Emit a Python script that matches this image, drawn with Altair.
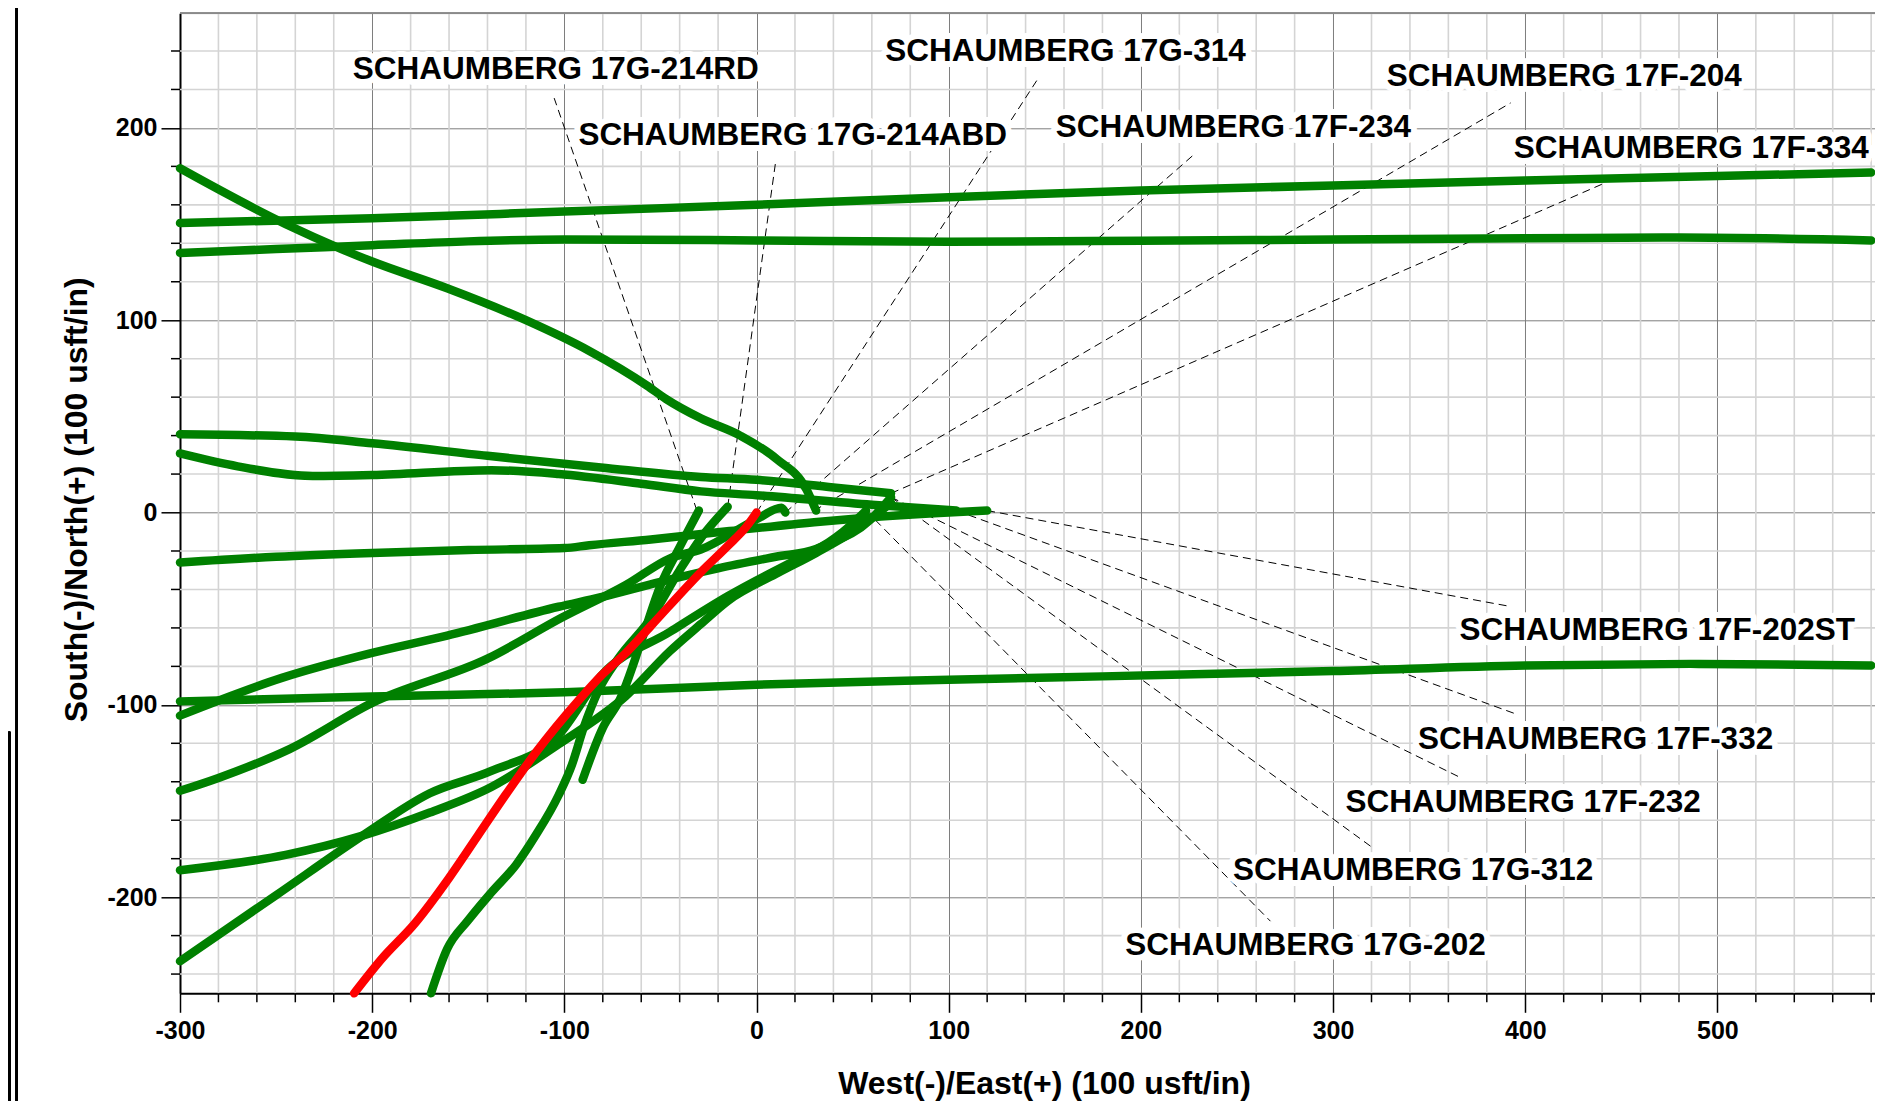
import altair as alt
import pandas as pd

# ---------------- well paths (West(-)/East(+), South(-)/North(+)) ----------------
w1_x = [-300, -245, -216, -200, -161, -120, -87, -57, -47, -29, -8.5, 10.6, 26, 31]
w1_y = [179, 150, 137, 130.5, 116.6, 100, 84, 66, 59, 49, 40, 27.7, 12, 1]
w2_x = [-300, -200, -100, 0, 100, 200, 300, 400, 500, 580]
w2_y = [150.6, 153, 156.5, 160, 164, 167.5, 170, 172.6, 175, 176.8]
w3_x = [-300, -250, -200, -150, -100, 0, 100, 200, 300, 400, 480, 580]
w3_y = [135, 137, 139, 141, 142, 141.5, 140.8, 141.3, 142, 142.6, 143, 141.5]
w4_x = [-300, -240, -200, -140, -81, -29, 0, 40, 70]
w4_y = [40.7, 39.5, 36, 29.5, 23.4, 18.5, 17, 13, 10]
w5_x = [-300, -270, -231, -200, -138, -103, -60, -29, 0, 60, 104]
w5_y = [30.7, 24, 19, 19.5, 22, 20, 15, 11, 9, 4, 1]
w6_x = [-300, -250, -200, -150, -100, -87, -55, -14, 30, 57, 90, 120]
w6_y = [-26, -23, -21, -19.5, -18.5, -17, -14, -9.6, -5, -2.7, -0.5, 1]
w7_x = [-300, -200, -100, 0, 100, 180, 300, 400, 486, 580]
w7_y = [-98.2, -95.7, -93.5, -89.5, -87, -85.2, -82.4, -79.5, -78.7, -79.5]
w8_x = [-300, -247, -200, -161, -103, -81, -50, -20, 10, 31, 45, 57]
w8_y = [-105.6, -86, -73, -64, -49, -44, -36, -29, -23, -19, -10, 1]
w9_x = [-300, -280, -243, -200, -140, -101, -68, -45, -29, 0, 13, 15]
w9_y = [-144.7, -138, -123, -99, -76, -54.5, -37.7, -23.8, -19.2, -3.5, 2.5, 0]
w10_x = [-300, -245, -205, -170, -138, -103, -68, -45, -29, -15, 10, 31, 50, 70]
w10_y = [-186, -178, -168, -156, -142.7, -120.5, -95.4, -72, -58, -46, -32, -21, -10, 5]
w11_x = [-300, -250, -205, -170, -138, -103, -81, -45, -15, 31, 59, 70]
w11_y = [-233.3, -199, -168, -146, -134.4, -115.8, -85, -62, -43.5, -19.2, -4, 8]
w12_x = [-169.4, -161, -150, -138, -125, -115, -103, -96, -90, -82, -72, -55, -40, -28, -15]
w12_y = [-250, -227, -212, -197.6, -183, -168, -147, -131, -112, -92, -76, -55, -30, -12, 3]
w13_x = [-90.5, -80, -71, -60, -50, -40, -30]
w13_y = [-139, -112, -97, -67, -38, -18, 1]
subject_x = [-209.4, -195, -177.6, -160, -145, -130, -115, -92, -81, -68, -55, -29, -15, -5, 0]
subject_y = [-250, -232, -213.4, -190, -168, -146, -125, -97, -85, -73, -59, -31, -17.4, -7, 0]

offset_paths = [
    ("w1", w1_x, w1_y), ("w2", w2_x, w2_y), ("w3", w3_x, w3_y), ("w4", w4_x, w4_y),
    ("w5", w5_x, w5_y), ("w6", w6_x, w6_y), ("w7", w7_x, w7_y), ("w8", w8_x, w8_y),
    ("w9", w9_x, w9_y), ("w10", w10_x, w10_y), ("w11", w11_x, w11_y),
    ("w12", w12_x, w12_y), ("w13", w13_x, w13_y),
]

# ---------------- labels and leader lines ----------------
label_text = [
    "SCHAUMBERG 17G-214RD", "SCHAUMBERG 17G-214ABD", "SCHAUMBERG 17G-314",
    "SCHAUMBERG 17F-234", "SCHAUMBERG 17F-204", "SCHAUMBERG 17F-334",
    "SCHAUMBERG 17F-202ST", "SCHAUMBERG 17F-332", "SCHAUMBERG 17F-232",
    "SCHAUMBERG 17G-312", "SCHAUMBERG 17G-202",
]
label_x = [-210.1, -92.7, 67, 155.7, 327.9, 394, 365.8, 344.2, 306.5, 247.9, 191.9]
label_y = [230.1, 196, 239.4, 199.9, 226.5, 189.1, -61.6, -118.2, -151.2, -186.2, -225.5]
lead_x1 = [-31, -15, 0, 15, 30, 70, 120, 104, 70, 70, 57]
lead_y1 = [1, 3, 0, 0, 1, 10, 1, 1, 8, 8, 1]
lead_x2 = [-105.3, 9.9, 145.8, 228, 392.4, 442.2, 392.6, 395, 365, 319.5, 267.4]
lead_y2 = [215.5, 182.1, 224.6, 186.5, 213, 171.7, -48.9, -104.7, -137.2, -173.5, -212.5]

x_major = [-300, -200, -100, 0, 100, 200, 300, 400, 500]
y_major = [-200, -100, 0, 100, 200]
x_minor = [v for v in range(-280, 581, 20) if v % 100 != 0]
y_minor = [v for v in range(-240, 241, 20) if v % 100 != 0]

# ---------------- tables ----------------
rows = []
for name, xs, ys in offset_paths:
    for i, (x, y) in enumerate(zip(xs, ys)):
        rows.append({"well": name, "x": x, "y": y, "i": i})
offset_df = pd.DataFrame(rows)
subject_df = pd.DataFrame({"x": subject_x, "y": subject_y, "i": range(len(subject_x))})
label_df = pd.DataFrame({"label": label_text, "x": label_x, "y": label_y})
lead_df = pd.DataFrame({"x": lead_x1, "y": lead_y1, "x2": lead_x2, "y2": lead_y2})
xminor_df = pd.DataFrame({"v": x_minor})
yminor_df = pd.DataFrame({"v": y_minor})

FONT = "Liberation Sans"
W, H = 1695, 980
GRID_MINOR = "#d4d4d4"
GRID_MAJOR = "#7d7d7d"
GREEN = "#008000"
LABEL_SIZE = 31.5

x_scale = alt.Scale(domain=[-300, 582], nice=False, zero=False)
y_scale = alt.Scale(domain=[-250, 259.6], nice=False, zero=False)


def make_axis(title, values, **kw):
    return alt.Axis(
        title=title, values=values, grid=True,
        gridColor=GRID_MAJOR, gridWidth=1,
        tickSize=19, tickColor="black", tickWidth=1.5,
        domainColor="black", domainWidth=2,
        labelExpr="'' + datum.value", labelOverlap=False, labelFlush=False,
        labelFont=FONT, labelFontWeight="bold", labelFontSize=25, labelColor="black",
        titleFont=FONT, titleFontWeight="bold", titleFontSize=32, titleColor="black",
        **kw,
    )


x_axis = make_axis("West(-)/East(+) (100 usft/in)", x_major, labelPadding=6,
                   titleX=864, titleY=100, titleBaseline="alphabetic", titleAlign="center")
y_axis = make_axis("South(-)/North(+) (100 usft/in)", y_major, labelPadding=4,
                   titleX=-94, titleY=486, titleBaseline="alphabetic", titleAlign="center",
                   titleAngle=270)

axes_holder = alt.Chart(offset_df).mark_point(opacity=0).encode(
    x=alt.X("x:Q", scale=x_scale, axis=x_axis),
    y=alt.Y("y:Q", scale=y_scale, axis=y_axis),
)

x_minor_grid = alt.Chart(xminor_df).mark_rule(color=GRID_MINOR, strokeWidth=1.6).encode(
    x="v:Q", y=alt.value(0), y2=alt.value(H)
)
y_minor_grid = alt.Chart(yminor_df).mark_rule(color=GRID_MINOR, strokeWidth=1.6).encode(
    y="v:Q", x=alt.value(0), x2=alt.value(W)
)
x_minor_ticks = alt.Chart(xminor_df).mark_rule(color="black", strokeWidth=1.5).encode(
    x="v:Q", y=alt.value(H), y2=alt.value(H + 9)
)
y_minor_ticks = alt.Chart(yminor_df).mark_rule(color="black", strokeWidth=1.5).encode(
    y="v:Q", x=alt.value(0), x2=alt.value(-9)
)

offset_lines = alt.Chart(offset_df).mark_line(
    color=GREEN, strokeWidth=8.5, strokeCap="round", strokeJoin="round", interpolate="monotone"
).encode(x="x:Q", y="y:Q", detail="well:N", order="i:Q")

subject_line = alt.Chart(subject_df).mark_line(
    color="#ff0000", strokeWidth=8.5, strokeCap="round", strokeJoin="round", interpolate="monotone"
).encode(x="x:Q", y="y:Q", order="i:Q")

leaders = alt.Chart(lead_df).mark_rule(
    color="black", strokeWidth=1, strokeDash=[8, 5]
).encode(x="x:Q", y="y:Q", x2="x2:Q", y2="y2:Q")

label_halo = alt.Chart(label_df).mark_text(
    align="left", baseline="middle", font=FONT, fontWeight="bold", fontSize=LABEL_SIZE,
    fill="white", stroke="white", strokeWidth=12, strokeJoin="round",
).encode(x="x:Q", y="y:Q", text="label:N")

labels = alt.Chart(label_df).mark_text(
    align="left", baseline="middle", font=FONT, fontWeight="bold", fontSize=LABEL_SIZE,
    color="black",
).encode(x="x:Q", y="y:Q", text="label:N")

top_border = alt.Chart(label_df).mark_rule(color="#8a8a8a", strokeWidth=1.2).encode(
    x=alt.value(0), x2=alt.value(W), y=alt.value(0)
)

# drawing-frame lines at the far left of the sheet
frame_line = alt.Chart(label_df).mark_rule(color="black", strokeWidth=2).encode(
    x=alt.value(-163.3), y=alt.value(-5.3), y2=alt.value(1090)
)
frame_box = alt.Chart(label_df).mark_rule(color="black", strokeWidth=2).encode(
    x=alt.value(-170.7), y=alt.value(718.4), y2=alt.value(1090)
)

chart = alt.layer(
    axes_holder, x_minor_grid, y_minor_grid, x_minor_ticks, y_minor_ticks,
    leaders, label_halo, offset_lines, subject_line, labels, top_border, frame_line, frame_box,
).properties(
    width=W, height=H,
    autosize=alt.AutoSizeParams(type="none"),
    padding={"left": 172, "top": 5.3, "right": 0, "bottom": 108},
).configure_view(stroke=None).configure(background="white")

chart.save("out.html", embed_options={"renderer": "svg", "actions": False})
